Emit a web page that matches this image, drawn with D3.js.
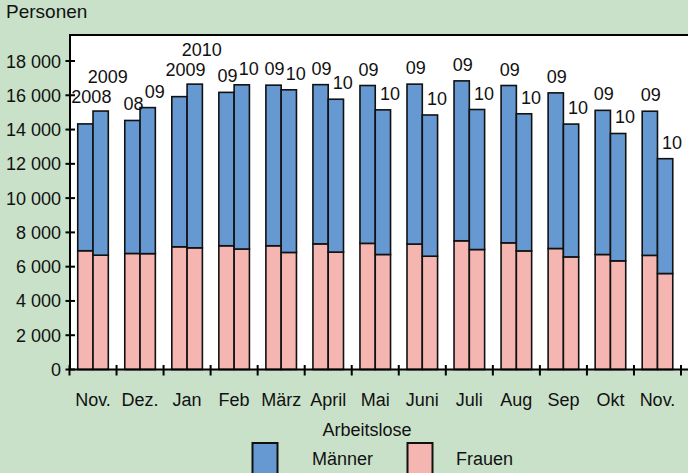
<!DOCTYPE html>
<html>
<head>
<meta charset="utf-8">
<script src="https://cdn.jsdelivr.net/npm/d3@7"></script>
<style>
  html, body { margin: 0; padding: 0; background: #c9e1c9; }
  svg { display: block; font-family: "Liberation Sans", Arial, sans-serif; }
</style>
</head>
<body>
<svg id="chart" width="688" height="473"></svg>
<script>
// months on the x axis (Nov. 2008/09 ... Nov. 2009/10)
const months = ['Nov.', 'Dez.', 'Jan', 'Feb', 'März', 'April', 'Mai', 'Juni', 'Juli', 'Aug', 'Sep', 'Okt', 'Nov.'];

// previous year (left bar) and current year (right bar)
const frauenPrev = [6930, 6770, 7160, 7220, 7220, 7330, 7360, 7320, 7510, 7390, 7060, 6710, 6660];
const maennerPrev = [7400, 7760, 8760, 8950, 9370, 9290, 9210, 9330, 9330, 9180, 9080, 8410, 8410];
const frauenCurr = [6670, 6760, 7100, 7030, 6830, 6850, 6710, 6610, 7000, 6920, 6570, 6340, 5600];
const maennerCurr = [8410, 8520, 9550, 9580, 9490, 8920, 8440, 8240, 8170, 8000, 7750, 7430, 6700];

const labelsPrev = ['2008', '08', '2009', '09', '09', '09', '09', '09', '09', '09', '09', '09', '09'];
const labelsCurr = ['2009', '09', '2010', '10', '10', '10', '10', '10', '10', '10', '10', '10', '10'];

const yTicks = [0, 2000, 4000, 6000, 8000, 10000, 12000, 14000, 16000, 18000];

const blue = '#6699d1';
const pink = '#f5b5b1';

const svg = d3.select('#chart');
const fmt = v => d3.format(',')(v).replace(',', ' ');

const plotTop = 35, plotLeft = 70, plotRight = 700, base = 369.5;

const x = d3.scaleBand().domain(d3.range(months.length)).range([69.5, 681]);
const x1 = d3.scaleBand().domain(['prev', 'curr'])
  .range([x.bandwidth() * 0.175, x.bandwidth() * 0.825]);
const y = d3.scaleLinear().domain([0, 18000]).range([base, 61]);

// plot background
svg.append('rect')
  .attr('x', plotLeft).attr('y', plotTop)
  .attr('width', plotRight - plotLeft).attr('height', base - plotTop)
  .attr('fill', '#fff');

// build bar records
const bars = [];
months.forEach((m, i) => {
  bars.push({ i, key: 'prev', f: frauenPrev[i], m: maennerPrev[i], label: labelsPrev[i] });
  bars.push({ i, key: 'curr', f: frauenCurr[i], m: maennerCurr[i], label: labelsCurr[i] });
});

const g = svg.append('g');

// Frauen (bottom)
g.selectAll('rect.frauen')
  .data(bars)
  .join('rect')
  .attr('class', 'frauen')
  .attr('x', d => x(d.i) + x1(d.key))
  .attr('width', x1.bandwidth())
  .attr('y', d => y(d.f))
  .attr('height', d => y(0) - y(d.f))
  .attr('fill', pink)
  .attr('stroke', '#111')
  .attr('stroke-width', 1.6);

// Männer (stacked on top)
g.selectAll('rect.maenner')
  .data(bars)
  .join('rect')
  .attr('class', 'maenner')
  .attr('x', d => x(d.i) + x1(d.key))
  .attr('width', x1.bandwidth())
  .attr('y', d => y(d.f + d.m))
  .attr('height', d => y(d.f) - y(d.f + d.m))
  .attr('fill', blue)
  .attr('stroke', '#111')
  .attr('stroke-width', 1.6);

// year labels above bars (full years sit a bit higher)
g.selectAll('text.lbl')
  .data(bars)
  .join('text')
  .attr('class', 'lbl')
  .attr('x', d => {
    const dx = d.key === 'curr' ? 7 : (d.label.length === 4 ? 6 : 1);
    return x(d.i) + x1(d.key) + x1.bandwidth() / 2 + dx;
  })
  .attr('y', d => {
    const lift = d.label.length === 4 ? (d.key === 'curr' ? 28 : 21) : 10;
    return y(d.f + d.m) - lift;
  })
  .attr('text-anchor', 'middle')
  .attr('font-size', 18)
  .attr('fill', '#111')
  .text(d => d.label);

// axes lines
svg.append('line')
  .attr('x1', plotLeft).attr('x2', plotLeft)
  .attr('y1', plotTop).attr('y2', base)
  .attr('stroke', '#000').attr('stroke-width', 2);
svg.append('line')
  .attr('x1', plotLeft - 1).attr('x2', 688)
  .attr('y1', plotTop).attr('y2', plotTop)
  .attr('stroke', '#000').attr('stroke-width', 2);
svg.append('line')
  .attr('x1', plotLeft - 1).attr('x2', 688)
  .attr('y1', base).attr('y2', base)
  .attr('stroke', '#000').attr('stroke-width', 2);

// y ticks and labels
const yAxis = svg.append('g');
yAxis.selectAll('line')
  .data(yTicks)
  .join('line')
  .attr('x1', 65.5).attr('x2', 75)
  .attr('y1', d => y(d)).attr('y2', d => y(d))
  .attr('stroke', '#000').attr('stroke-width', 2);
yAxis.selectAll('text')
  .data(yTicks)
  .join('text')
  .attr('x', 61)
  .attr('y', d => y(d) + 6.5)
  .attr('text-anchor', 'end')
  .attr('font-size', 18)
  .attr('fill', '#111')
  .text(fmt);

// x ticks at month boundaries
const xBounds = d3.range(months.length + 1).map(i => x.range()[0] + i * x.step());
svg.append('g').selectAll('line')
  .data(xBounds)
  .join('line')
  .attr('x1', d => d).attr('x2', d => d)
  .attr('y1', base - 4.5).attr('y2', base + 6)
  .attr('stroke', '#000').attr('stroke-width', 2);

// month labels
svg.append('g').selectAll('text')
  .data(months)
  .join('text')
  .attr('x', (d, i) => x(i) + x.bandwidth() / 2)
  .attr('y', 406)
  .attr('text-anchor', 'middle')
  .attr('font-size', 18)
  .attr('fill', '#111')
  .text(d => d);

// axis title
svg.append('text')
  .attr('x', 6).attr('y', 18)
  .attr('font-size', 19)
  .attr('fill', '#111')
  .text('Personen');

// legend
svg.append('text')
  .attr('x', 367).attr('y', 436)
  .attr('text-anchor', 'middle')
  .attr('font-size', 18)
  .attr('fill', '#111')
  .text('Arbeitslose');

const legend = [
  { name: 'Männer', color: blue, bx: 252.5, tx: 312 },
  { name: 'Frauen', color: pink, bx: 407.5, tx: 456 }
];
const lg = svg.append('g').selectAll('g').data(legend).join('g');
lg.append('rect')
  .attr('x', d => d.bx).attr('y', 443)
  .attr('width', 25).attr('height', 34)
  .attr('fill', d => d.color)
  .attr('stroke', '#111').attr('stroke-width', 2);
lg.append('text')
  .attr('x', d => d.tx).attr('y', 464.5)
  .attr('font-size', 18)
  .attr('fill', '#111')
  .text(d => d.name);
</script>
</body>
</html>
